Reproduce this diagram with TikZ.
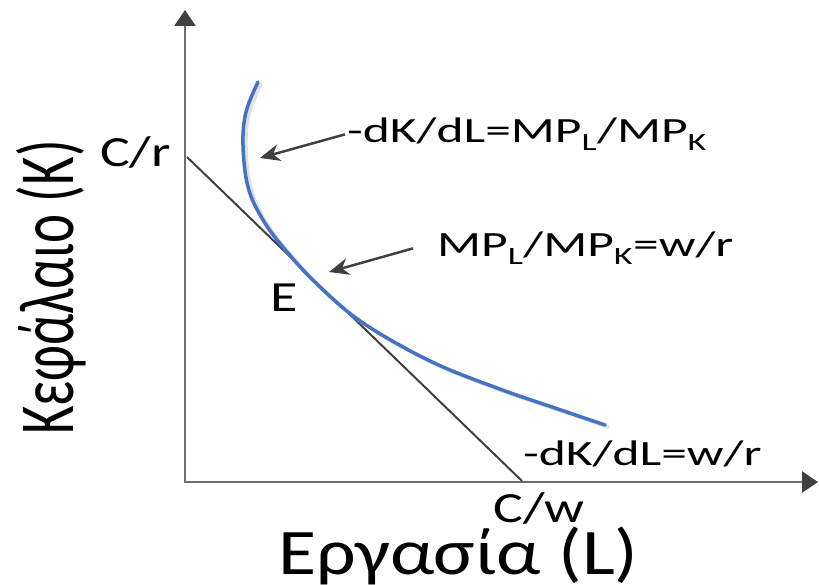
\documentclass[tikz,border=0pt]{standalone}
\usepackage{fontspec}
\setmainfont{Carlito}
\newfontfamily\widefont[FakeStretch=1.3]{Carlito}
\newfontfamily\widerfont[FakeStretch=1.45]{Carlito}
\newfontfamily\axisfont[FakeStretch=1.2]{Carlito}
\usetikzlibrary{arrows.meta}
\definecolor{curveBlue}{HTML}{4472C4}
\definecolor{axisGray}{HTML}{6E6E6E}
\definecolor{lineDark}{HTML}{404040}
\newcommand{\lowsub}[1]{\textsubscript{#1}}

\begin{document}
\begin{tikzpicture}[x=1pt, y=-1pt,
  axis/.style={line width=2.5pt, axisGray,
    -{Triangle[length=16pt,width=21pt,color=lineDark]}},
  budget/.style={line width=2pt, lineDark},
  isoquant/.style={line width=3.5pt, curveBlue, line cap=round},
  shade/.style={line width=3.5pt, black!12, line cap=round},
  pointer/.style={line width=2.5pt, lineDark,
    -{Stealth[length=20pt,width=17pt]}},
  lbl/.style={font=\widerfont\fontsize{35.5}{40}\selectfont, inner sep=0pt,
    anchor=base west},
  pointlbl/.style={font=\widefont\fontsize{43}{48}\selectfont, inner sep=0pt,
    anchor=base west},
  axlabel/.style={font=\axisfont\fontsize{65}{70}\selectfont, inner sep=0pt,
    anchor=base west},
]
\useasboundingbox (0,0) rectangle (819,585);

% === axes ===
\coordinate (O) at (185,482);
\coordinate (ytop) at (185,10);
\coordinate (xend) at (818,482);
\draw[axis] ([yshift=-1pt]O) -- (ytop);
\draw[axis] ([xshift=-1pt]O) -- (xend);

% === budget line ===
\coordinate (budget-k) at (187,157);
\coordinate (budget-l) at (522,481);
\draw[budget] (budget-k) -- (budget-l);

% === isoquant ===
\foreach \sty/\dx/\dy in {shade/3/-2, isoquant/0/0} {
  \draw[\sty, xshift=\dx, yshift=\dy] plot[smooth, tension=0.6] coordinates {
    (258,82) (246,112) (243,145) (248,187) (263,220) (287,252)
    (320,287) (363,323) (430,361) (497,388) (555,408) (605,425)};
}

% === labels ===
\node[lbl] (mrts) at (347,143) {-dK/dL=MP\lowsub{L}/MP\lowsub{K}};
\node[lbl] (tangent) at (437,257) {MP\lowsub{L}/MP\lowsub{K}=w/r};
\node[lbl] (slope) at (523,465) {-dK/dL=w/r};
\node[pointlbl] (E) at (270,312) {E};
\node[pointlbl] (Cr) at (100,167) {C/r};
\node[pointlbl] (Cw) at (493,522) {C/w};
\node[axlabel] (xlab) at (278,574) {Εργασία (L)};
\node[inner sep=0pt, anchor=base west, rotate=90,
  font=\fontsize{55}{60}\selectfont] (ylab) at (73,435)
  {\scalebox{1}[1.42]{Κεφάλαιο (K)}};

% === pointers ===
\coordinate (tip-a) at (260,158);
\coordinate (tip-b) at (329,272);
\draw[pointer] ([xshift=-2pt]mrts.west) -- (tip-a);
\draw[pointer] ([xshift=-24pt]tangent.west) -- (tip-b);

\end{tikzpicture}
\end{document}
